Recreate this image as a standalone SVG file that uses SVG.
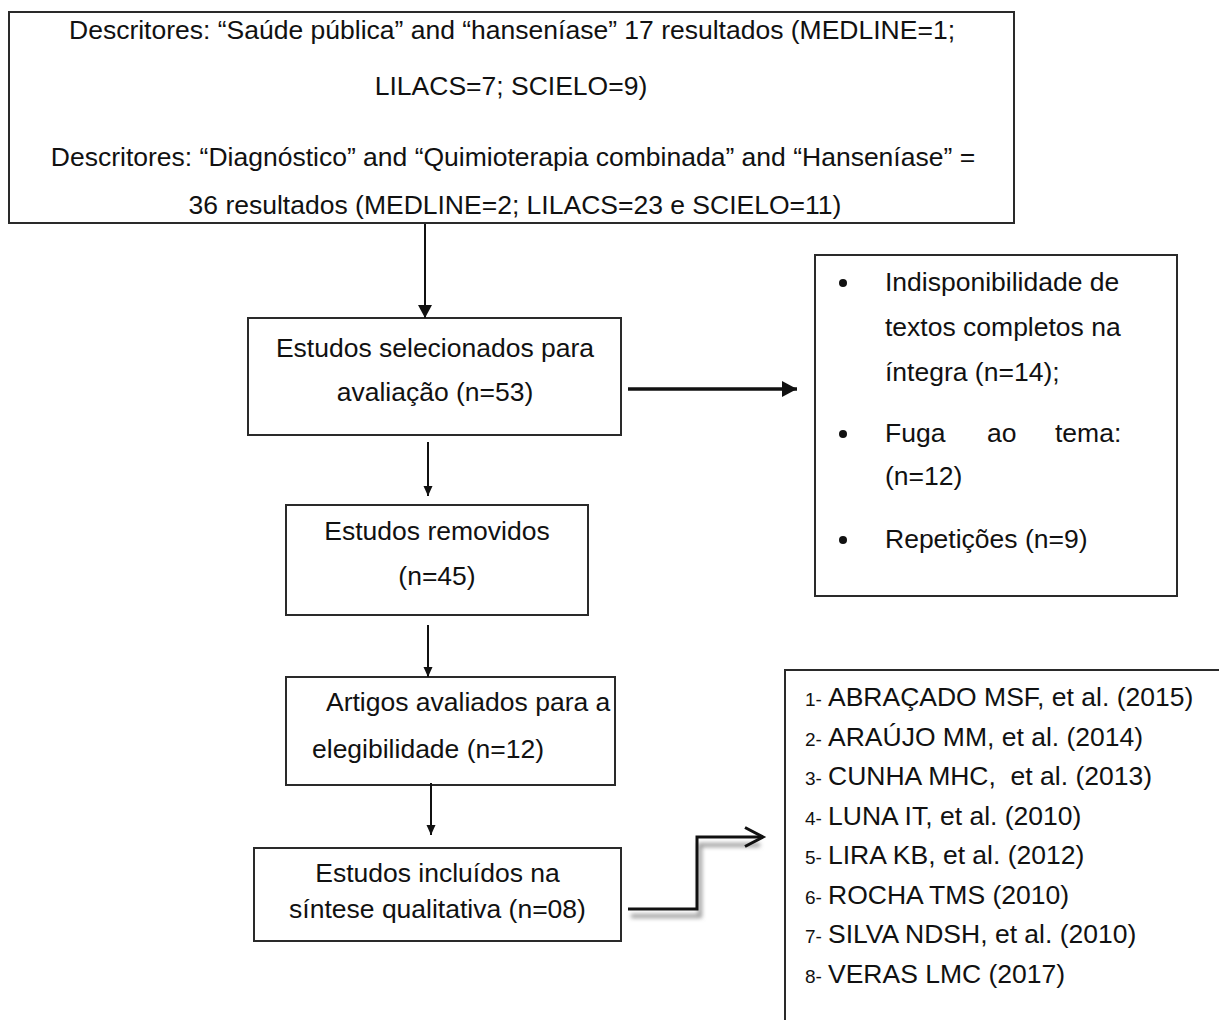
<svg xmlns="http://www.w3.org/2000/svg" width="1219" height="1020" viewBox="0 0 1219 1020">
  <style>
    .box { fill: #ffffff; stroke: #2a2a2a; stroke-width: 2; }
    .t { font-family: "Liberation Sans", Arial, sans-serif; font-size: 26.5px; fill: #111111; }
    .m { text-anchor: middle; }
    .num { font-family: "Liberation Sans", Arial, sans-serif; font-size: 19px; fill: #111111; }
    .conn { fill: none; stroke: #111111; }
  </style>
  <defs>
    <marker id="headBig" markerUnits="userSpaceOnUse" markerWidth="18" markerHeight="18" refX="15" refY="8" orient="auto">
      <path d="M0,0 L15,8 L0,16 z" fill="#111111"/>
    </marker>
    <marker id="headMed" markerUnits="userSpaceOnUse" markerWidth="16" markerHeight="16" refX="13" refY="7" orient="auto">
      <path d="M0,0 L13,7 L0,14 z" fill="#111111"/>
    </marker>
    <marker id="headSmall" markerUnits="userSpaceOnUse" markerWidth="12" markerHeight="12" refX="10" refY="4.5" orient="auto">
      <path d="M0,0 L10,4.5 L0,9 z" fill="#111111"/>
    </marker>
    <marker id="chevron" markerUnits="userSpaceOnUse" markerWidth="26" markerHeight="26" refX="20" refY="11" orient="auto" overflow="visible">
      <path d="M2,1.5 L20,11 L2,20.5" fill="none" stroke="#111111" stroke-width="3"/>
    </marker>
    <filter id="soft" x="-20%" y="-50%" width="140%" height="200%">
      <feGaussianBlur stdDeviation="2"/>
    </filter>
  </defs>

  <rect x="0" y="0" width="1219" height="1020" fill="#ffffff"/>

  <g id="node-descritores">
    <rect class="box" x="9" y="12" width="1005" height="211"/>
    <text class="t m" x="512" y="39">Descritores: “Saúde pública” and “hanseníase” 17 resultados (MEDLINE=1;</text>
    <text class="t m" x="511" y="95">LILACS=7; SCIELO=9)</text>
    <text class="t m" x="513" y="166">Descritores: “Diagnóstico” and “Quimioterapia combinada” and “Hanseníase” =</text>
    <text class="t m" x="515" y="214">36 resultados (MEDLINE=2; LILACS=23 e SCIELO=11)</text>
  </g>

  <g id="node-selecionados">
    <rect class="box" x="248" y="318" width="373" height="117"/>
    <text class="t m" x="435" y="357">Estudos selecionados para</text>
    <text class="t m" x="435" y="401">avaliação (n=53)</text>
  </g>

  <g id="node-exclusao">
    <rect class="box" x="815" y="255" width="362" height="341"/>
    <circle cx="843" cy="283" r="4" fill="#111111"/>
    <circle cx="843" cy="434" r="4" fill="#111111"/>
    <circle cx="843" cy="540" r="4" fill="#111111"/>
    <text class="t" x="885" y="291">Indisponibilidade de</text>
    <text class="t" x="885" y="336">textos completos na</text>
    <text class="t" x="885" y="381">íntegra (n=14);</text>
    <text class="t" y="442"><tspan x="885">Fuga</tspan><tspan x="987">ao</tspan><tspan x="1055">tema:</tspan></text>
    <text class="t" x="885" y="485">(n=12)</text>
    <text class="t" x="885" y="548">Repetições (n=9)</text>
  </g>

  <g id="node-removidos">
    <rect class="box" x="286" y="505" width="302" height="110"/>
    <text class="t m" x="437" y="540">Estudos removidos</text>
    <text class="t m" x="437" y="585">(n=45)</text>
  </g>

  <g id="node-elegibilidade">
    <rect class="box" x="286" y="677" width="329" height="108"/>
    <text class="t" x="326" y="711">Artigos avaliados para a</text>
    <text class="t" x="312" y="758">elegibilidade (n=12)</text>
  </g>

  <g id="node-incluidos">
    <rect class="box" x="254" y="848" width="367" height="93"/>
    <text class="t m" x="437.5" y="882">Estudos incluídos na</text>
    <text class="t m" x="437.5" y="918">síntese qualitativa (n=08)</text>
  </g>

  <g id="node-lista">
    <rect class="box" x="785" y="670" width="500" height="420"/>
    <text x="805" y="706"><tspan class="num">1-</tspan><tspan class="t" x="828">ABRAÇADO MSF, et al. (2015)</tspan></text>
    <text x="805" y="745.5"><tspan class="num">2-</tspan><tspan class="t" x="828">ARAÚJO MM, et al. (2014)</tspan></text>
    <text x="805" y="785"><tspan class="num">3-</tspan><tspan class="t" x="828">CUNHA MHC,&#160; et al. (2013)</tspan></text>
    <text x="805" y="824.5"><tspan class="num">4-</tspan><tspan class="t" x="828">LUNA IT, et al. (2010)</tspan></text>
    <text x="805" y="864"><tspan class="num">5-</tspan><tspan class="t" x="828">LIRA KB, et al. (2012)</tspan></text>
    <text x="805" y="903.5"><tspan class="num">6-</tspan><tspan class="t" x="828">ROCHA TMS (2010)</tspan></text>
    <text x="805" y="943"><tspan class="num">7-</tspan><tspan class="t" x="828">SILVA NDSH, et al. (2010)</tspan></text>
    <text x="805" y="982.5"><tspan class="num">8-</tspan><tspan class="t" x="828">VERAS LMC (2017)</tspan></text>
  </g>

  <g id="connectors">
    <path class="conn" d="M425,224 L425,318" stroke-width="2" marker-end="url(#headMed)"/>
    <path class="conn" d="M628,389 L797,389" stroke-width="3.5" marker-end="url(#headBig)"/>
    <path class="conn" d="M428,442 L428,496" stroke-width="2" marker-end="url(#headSmall)"/>
    <path class="conn" d="M428,625 L428,677" stroke-width="2" marker-end="url(#headSmall)"/>
    <path class="conn" d="M431,783 L431,835" stroke-width="2" marker-end="url(#headSmall)"/>
    <path d="M631,916 L700,916 L700,845 L760,845" fill="none" stroke="#9a9a9a" stroke-width="4" filter="url(#soft)"/>
    <path class="conn" d="M628,909 L697,909 L697,837 L763,837" stroke-width="3" marker-end="url(#chevron)"/>
  </g>
</svg>
